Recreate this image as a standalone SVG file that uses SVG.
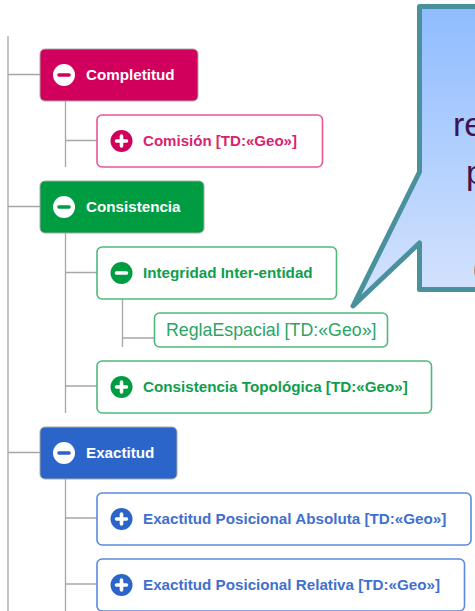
<svg xmlns="http://www.w3.org/2000/svg" width="475" height="611" viewBox="0 0 475 611">
<defs>
<linearGradient id="callFill" x1="0" y1="0" x2="0" y2="1"><stop offset="0" stop-color="#8fbcff"/><stop offset="1" stop-color="#d6e4fd"/></linearGradient>
</defs>
<style>
text{font-family:"Liberation Sans",Arial,sans-serif}
.line{stroke:#a6a6a6;stroke-width:1.3;fill:none}
.t{font-size:15.200px;font-weight:700}
.w{fill:#fff}
.g{fill:#0f9e4c}.m{fill:#d1005d}.b{fill:#2b65c9}
.tb{fill:#3f70cf}.tm{fill:#d8246f}.tr{fill:#2aa565}
.bm{fill:#fff;stroke:#e8559a;stroke-width:1.6}
.bg{fill:#fff;stroke:#4fb97c;stroke-width:1.6}
.bb{fill:#fff;stroke:#5a8ade;stroke-width:1.6}
.sym{stroke-width:3.600;fill:none;stroke-linecap:round}
</style>
<rect width="475" height="611" fill="#fff"/>
<g id="connectors" class="line">
<path d="M8 36V611M8 74.500H40M8 206.500H40M8 452.500H40"/>
<path d="M65.500 101V167M65.500 140.500H97"/>
<path d="M65.500 233V413M65.500 272.500H97M65.500 386H97"/>
<path d="M122.500 299V347M122.500 338H154"/>
<path d="M65.500 479V611M65.500 518H97M65.500 584H97"/>
</g>
<g id="n-completitud"><rect x="40" y="49" width="158" height="52" rx="5" fill="#d1005d" stroke="#a8a8a8"/><circle cx="64" cy="75" r="11" fill="#fff"/><path class="sym" stroke="#d1005d" d="M59 75H69"/><text class="t w" x="86" y="80">Completitud</text></g>
<g id="n-comision"><rect class="bm" x="97" y="115" width="225.500" height="52" rx="5"/><circle class="m" cx="121.500" cy="141" r="11"/><path class="sym" stroke="#fff" d="M116.500 141H126.500M121.500 136V146"/><text class="t tm" x="143" y="146" textLength="154" lengthAdjust="spacingAndGlyphs">Comisión [TD:«Geo»]</text></g>
<g id="n-consistencia"><rect x="40" y="181" width="164" height="52" rx="5" fill="#009c41" stroke="#a8a8a8"/><circle cx="64" cy="207" r="11" fill="#fff"/><path class="sym" stroke="#009c41" d="M59 207H69"/><text class="t w" x="86" y="212">Consistencia</text></g>
<g id="n-integridad"><rect class="bg" x="97" y="247" width="239.500" height="52" rx="5"/><circle cx="121.500" cy="273" r="11" fill="#009c41"/><path class="sym" stroke="#fff" d="M116.500 273H126.500"/><text class="t g" x="143" y="278">Integridad Inter-entidad</text></g>
<g id="n-regla"><rect class="bg" x="154.500" y="313" width="233" height="34" rx="5"/><text class="tr" font-size="17.800" x="166" y="336">ReglaEspacial [TD:«Geo»]</text></g>
<g id="n-topologica"><rect class="bg" x="97" y="361" width="334.500" height="52" rx="5"/><circle cx="121.500" cy="387" r="11" fill="#009c41"/><path class="sym" stroke="#fff" d="M116.500 387H126.500M121.500 382V392"/><text class="t g" x="143" y="392">Consistencia Topológica [TD:«Geo»]</text></g>
<g id="n-exactitud"><rect x="40" y="427" width="137" height="52" rx="5" fill="#2b65c9" stroke="#a8a8a8"/><circle cx="64" cy="453" r="11" fill="#fff"/><path class="sym" stroke="#2b65c9" d="M59 453H69"/><text class="t w" x="86" y="458">Exactitud</text></g>
<g id="n-absoluta"><rect class="bb" x="97" y="493" width="374" height="52" rx="5"/><circle class="b" cx="121.500" cy="519" r="11"/><path class="sym" stroke="#fff" d="M116.500 519H126.500M121.500 514V524"/><text class="t tb" x="143" y="524">Exactitud Posicional Absoluta [TD:«Geo»]</text></g>
<g id="n-relativa"><rect class="bb" x="97" y="559" width="367.500" height="52" rx="5"/><circle class="b" cx="121.500" cy="585" r="11"/><path class="sym" stroke="#fff" d="M116.500 585H126.500M121.500 580V590"/><text class="t tb" x="143" y="590">Exactitud Posicional Relativa [TD:«Geo»]</text></g>
<g id="callout">
<path d="M480 6.500H419.500V172L353 306L419.500 243V289.500H480Z" fill="url(#callFill)" stroke="#4a919e" stroke-width="5" stroke-linejoin="round"/>
<g font-size="34" fill="#3f1450" style="font-family:'Open Sans','Liberation Sans',sans-serif"><text x="453" y="135.500">re</text><text x="466" y="184">p</text><text x="472.500" y="279">(</text></g>
</g>
</svg>
